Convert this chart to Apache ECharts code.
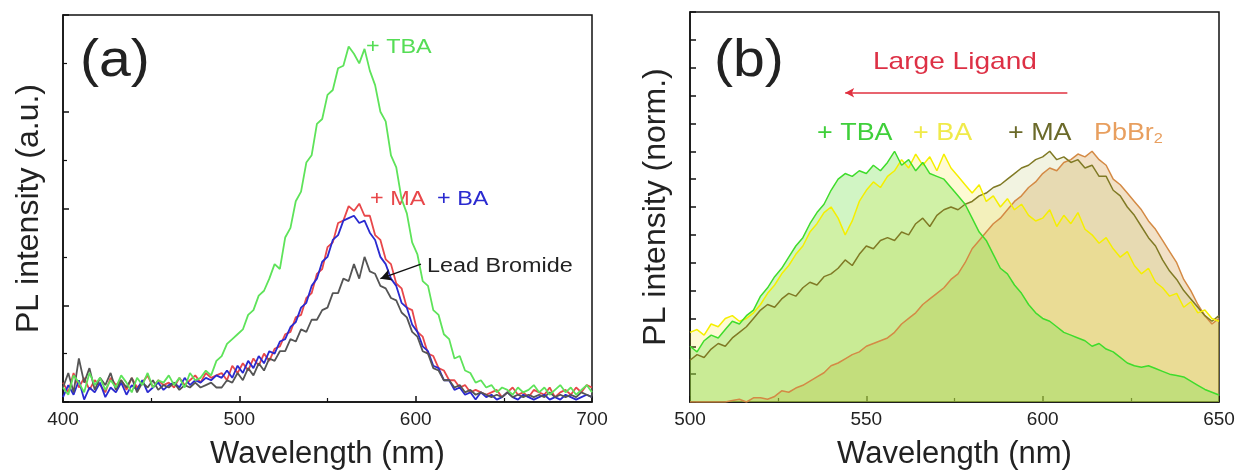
<!DOCTYPE html>
<html>
<head>
<meta charset="utf-8">
<script src="https://cdn.jsdelivr.net/npm/echarts@6/dist/echarts.min.js"></script>
<style>
  html, body { margin: 0; padding: 0; background: #fff; }
  #chart { width: 1240px; height: 475px; }
</style>
</head>
<body>
<div id="chart"></div>
<script>
// panel (a): wavelength grid, 3 nm steps
var waveA = [400,403,406,409,412,415,418,421,424,427,430,433,436,439,442,445,448,451,454,457,
  460,463,466,469,472,475,478,481,484,487,490,493,496,499,502,505,508,511,514,517,
  520,523,526,529,532,535,538,541,544,547,550,553,556,559,562,565,568,571,574,577,
  580,583,586,589,592,595,598,601,604,607,610,613,616,619,622,625,628,631,634,637,
  640,643,646,649,652,655,658,661,664,667,670,673,676,679,682,685,688,691,694,697,700];

var tbaA = [0.3,0.15,0.55,0.4,0.2,0.6,0.35,0.5,0.25,0.45,
  0.3,0.55,0.4,0.2,0.5,0.35,0.6,0.3,0.45,0.4,
  0.55,0.35,0.5,0.3,0.6,0.45,0.5,0.65,0.55,0.85,
  0.95,1.2,1.3,1.4,1.5,1.8,1.9,2.2,2.3,2.55,
  2.85,2.75,3.4,3.6,4.15,4.35,4.95,5.1,5.75,5.85,
  6.35,6.45,6.9,6.95,7.35,7.2,7.0,7.3,6.85,6.55,
  6.0,5.8,5.1,4.85,4.2,3.9,3.3,3.05,2.5,2.4,
  1.9,1.8,1.4,1.3,0.9,0.95,0.65,0.6,0.4,0.45,
  0.3,0.35,0.2,0.3,0.25,0.15,0.3,0.2,0.25,0.35,
  0.2,0.3,0.15,0.25,0.35,0.2,0.3,0.15,0.25,0.35,0.2];

var maA = [0.4,0.2,0.6,0.3,0.5,0.25,0.45,0.35,0.2,0.5,
  0.35,0.45,0.25,0.5,0.3,0.4,0.55,0.3,0.45,0.35,
  0.4,0.3,0.5,0.35,0.45,0.55,0.4,0.6,0.5,0.55,
  0.6,0.45,0.75,0.6,0.8,0.65,0.9,0.75,1.0,0.85,
  1.1,1.15,1.4,1.45,1.75,1.8,2.15,2.25,2.65,2.75,
  3.2,3.3,3.7,3.75,4.05,3.95,4.1,3.85,3.85,3.45,
  3.35,2.95,2.85,2.45,2.35,1.95,1.9,1.45,1.35,1.0,
  0.95,0.7,0.65,0.45,0.45,0.3,0.35,0.2,0.25,0.2,
  0.15,0.2,0.25,0.1,0.2,0.3,0.15,0.2,0.1,0.25,
  0.2,0.15,0.3,0.1,0.2,0.25,0.15,0.3,0.2,0.35,0.3];

var baA = [0.1,0.35,0.15,0.45,0.05,0.3,0.2,0.4,0.1,0.3,
  0.2,0.4,0.15,0.35,0.25,0.45,0.2,0.3,0.4,0.25,
  0.35,0.4,0.3,0.5,0.35,0.45,0.4,0.5,0.45,0.55,
  0.5,0.65,0.5,0.75,0.6,0.85,0.7,0.95,0.8,1.05,
  1.0,1.25,1.3,1.55,1.65,1.95,2.05,2.4,2.55,2.9,
  3.0,3.35,3.45,3.75,3.8,3.85,3.7,3.75,3.5,3.35,
  3.0,2.85,2.55,2.4,2.05,1.95,1.6,1.45,1.15,1.05,
  0.75,0.7,0.45,0.45,0.25,0.3,0.15,0.2,0.05,0.2,
  0.1,0.15,0.05,0.1,0.2,0.1,0.05,0.15,0.1,0.05,
  0.1,0.15,0.05,0.1,0.05,0.15,0.1,0.05,0.1,0.15,0.1];

var pbA = [0.3,0.6,0.2,0.9,0.4,0.7,0.25,0.5,0.35,0.6,
  0.25,0.45,0.3,0.5,0.2,0.4,0.3,0.45,0.25,0.35,
  0.3,0.4,0.25,0.35,0.3,0.4,0.3,0.35,0.4,0.3,
  0.3,0.45,0.4,0.6,0.45,0.7,0.55,0.8,0.65,0.9,
  0.85,1.05,1.05,1.3,1.25,1.5,1.45,1.7,1.7,1.9,
  1.95,2.25,2.25,2.55,2.5,2.85,2.55,3.0,2.7,2.65,
  2.4,2.35,2.15,2.1,1.85,1.75,1.45,1.35,1.05,1.0,
  0.7,0.65,0.45,0.45,0.3,0.35,0.2,0.25,0.15,0.2,
  0.15,0.1,0.15,0.1,0.2,0.1,0.15,0.1,0.15,0.1,
  0.15,0.1,0.2,0.1,0.15,0.1,0.15,0.1,0.2,0.15,0.1];

// panel (b): normalised spectra, 2 nm steps
var waveB = [500,502,504,506,508,510,512,514,516,518,520,522,524,526,528,530,532,534,536,538,
  540,542,544,546,548,550,552,554,556,558,560,562,564,566,568,570,572,574,576,578,
  580,582,584,586,588,590,592,594,596,598,600,602,604,606,608,610,612,614,616,618,
  620,622,624,626,628,630,632,634,636,638,640,642,644,646,648,650];

var tbaB = [2.0,1.8,2.2,2.4,2.3,2.6,2.9,2.8,3.1,3.3,
  3.8,4.1,4.5,4.8,5.2,5.6,5.9,6.4,6.8,7.1,
  7.6,8.0,8.2,8.1,8.3,8.2,8.5,8.3,8.6,9.0,
  8.5,8.7,8.3,8.6,8.2,8.1,8.0,7.7,7.4,7.1,
  6.6,6.1,5.8,5.3,4.8,4.6,4.2,3.9,3.5,3.2,
  3.0,2.9,2.7,2.5,2.4,2.3,2.2,2.0,2.1,1.9,
  1.8,1.6,1.4,1.3,1.25,1.3,1.2,1.1,1.0,0.95,
  0.9,0.75,0.6,0.45,0.35,0.25];

var baB = [2.5,2.6,2.4,2.8,2.7,3.0,3.1,2.9,3.0,3.2,
  3.5,3.9,4.2,4.6,4.9,5.3,5.6,6.1,6.4,6.8,
  7.0,6.6,6.0,6.5,7.2,7.6,7.9,7.7,8.1,8.3,
  8.7,8.4,8.9,8.5,8.8,8.3,8.9,8.4,8.1,7.8,
  7.5,7.8,7.2,7.4,7.0,7.3,6.9,7.1,6.7,6.5,
  6.6,6.9,6.3,6.7,6.4,6.8,6.2,6.0,5.7,5.9,
  5.5,5.2,5.4,4.9,4.6,4.8,4.3,4.1,3.8,3.9,
  3.4,3.6,3.2,3.3,3.0,2.9];

var maB = [1.5,1.7,1.6,1.9,2.1,2.0,2.3,2.5,2.7,3.0,
  3.3,3.5,3.4,3.7,3.9,3.8,4.1,4.3,4.2,4.5,
  4.6,4.8,5.1,4.9,5.3,5.6,5.5,5.8,5.9,5.8,
  6.1,6.0,6.4,6.6,6.3,6.7,6.9,7.0,6.9,7.1,
  7.2,7.4,7.5,7.7,7.8,8.0,8.2,8.4,8.5,8.7,
  8.8,9.0,8.7,8.8,8.6,8.7,8.4,8.5,8.1,8.1,
  7.6,7.4,7.0,6.7,6.3,5.9,5.6,5.1,4.7,4.4,
  4.0,3.7,3.4,3.1,2.9,3.1];

var pbB = [0,0,0,0,0,0,0.05,0.1,0,0.15,
  0.15,0.1,0.2,0.4,0.35,0.5,0.6,0.75,0.9,1.05,
  1.3,1.4,1.55,1.7,1.8,2.0,2.1,2.2,2.3,2.5,
  2.8,3.0,3.2,3.5,3.7,3.9,4.1,4.4,4.6,5.0,
  5.5,5.8,6.1,6.4,6.6,6.9,7.2,7.4,7.7,7.9,
  8.2,8.4,8.3,8.6,8.7,8.9,8.8,9.0,8.7,8.5,
  8.0,7.8,7.5,7.2,6.9,6.5,6.2,5.8,5.4,5.0,
  4.4,4.0,3.5,3.1,2.8,3.0];

var xTicksA = [400, 700, 100];
var xTicksB = [500, 650, 50];

function pairs(xs, ys) {
  var out = [];
  for (var i = 0; i < xs.length; i++) out.push([xs[i], ys[i]]);
  return out;
}

var font = 'Liberation Sans, Arial, sans-serif';
var myChart = echarts.init(document.getElementById('chart'));

function xAxisOf(idx, range) {
  return {
    gridIndex: idx, type: 'value', min: range[0], max: range[1], interval: range[2],
    axisLine: { show: true, onZero: false, lineStyle: { color: '#111', width: 1.5 } },
    axisTick: { show: true, inside: true, length: 6, lineStyle: { color: '#111', width: 1.5 } },
    minorTick: { show: true, splitNumber: 2, length: 4, lineStyle: { color: '#111', width: 1.2 } },
    axisLabel: { fontSize: 19, color: '#222', margin: 8, fontFamily: font },
    splitLine: { show: false },
    name: 'Wavelength (nm)', nameLocation: 'middle', nameGap: 37,
    nameTextStyle: { fontSize: 31, color: '#222', fontFamily: font }
  };
}

function yAxisOf(idx, max, interval, minor, title) {
  return {
    gridIndex: idx, type: 'value', min: 0, max: max, interval: interval,
    axisLine: { show: true, lineStyle: { color: '#111', width: 1.5 } },
    axisTick: { show: true, inside: true, length: 6, lineStyle: { color: '#111', width: 1.5 } },
    minorTick: { show: minor, splitNumber: 2, length: 4, lineStyle: { color: '#111', width: 1.2 } },
    axisLabel: { show: false },
    splitLine: { show: false },
    name: title, nameLocation: 'middle', nameGap: 18,
    nameTextStyle: { fontSize: 32, color: '#222', fontFamily: font }
  };
}

function line(name, xi, xs, ys, color, width, extra) {
  var s = {
    name: name, type: 'line', xAxisIndex: xi, yAxisIndex: xi,
    data: pairs(xs, ys), showSymbol: false, symbol: 'none',
    lineStyle: { color: color, width: width }, itemStyle: { color: color },
    z: 2
  };
  for (var k in extra) s[k] = extra[k];
  return s;
}

function label(text, left, top, size, color, sx) {
  return { type: 'text', left: left, top: top, scaleX: sx || 1.17,
    style: { text: text, fontSize: size, fill: color, fontFamily: font } };
}

var option = {
  animation: false,
  grid: [
    { left: 63, top: 15, width: 529, height: 391, show: true, borderColor: '#111', borderWidth: 1.5 },
    { left: 690, top: 12, width: 529, height: 392, show: true, borderColor: '#111', borderWidth: 1.5 }
  ],
  xAxis: [xAxisOf(0, xTicksA), xAxisOf(1, xTicksB)],
  yAxis: [
    yAxisOf(0, 8, 2, true, 'PL intensity (a.u.)'),
    yAxisOf(1, 14, 1, false, 'PL intensity (norm.)')
  ],
  series: [
    line('+ MA', 0, waveA, maA, '#e8474a', 1.8),
    line('+ BA', 0, waveA, baA, '#2a2ad0', 1.8),
    line('Lead Bromide', 0, waveA, pbA, '#555555', 1.8, {
      markLine: {
        silent: true, symbol: ['none', 'arrow'], symbolSize: [9, 11],
        label: { show: false },
        lineStyle: { color: '#111', width: 1.5, type: 'solid' },
        data: [[{ coord: [603, 2.85] }, { coord: [580, 2.55] }]]
      }
    }),
    line('+ TBA', 0, waveA, tbaA, '#5ee35a', 1.8),

    line('PbBr2', 1, waveB, pbB, '#d48a45', 1.5, { areaStyle: { color: 'rgba(215,160,80,0.45)' } }),
    line('+ MA', 1, waveB, maB, '#807a25', 1.5, { areaStyle: { color: 'rgba(170,175,60,0.22)' } }),
    line('+ BA', 1, waveB, baB, '#f5ef00', 1.5, { areaStyle: { color: 'rgba(250,230,30,0.28)' } }),
    line('+ TBA', 1, waveB, tbaB, '#3fdc2c', 1.5, {
      areaStyle: { color: 'rgba(110,225,70,0.45)' },
      markLine: {
        silent: true, symbol: ['none', 'arrow'], symbolSize: [7, 9],
        label: { show: false },
        lineStyle: { color: '#e0303f', width: 1.5, type: 'solid' },
        data: [[{ coord: [607, 11.1] }, { coord: [544, 11.1] }]]
      }
    })
  ],
  graphic: [
    label('(a)', 80, 36, 52, '#222', 1.1),
    label('+ TBA', 366, 37, 20, '#55dd55'),
    label('+ MA', 370, 189, 20, '#e8474a'),
    label('+ BA', 437, 189, 20, '#2a2ad0'),
    label('Lead Bromide', 427, 256, 20, '#222'),

    label('(b)', 714, 36, 52, '#222', 1.1),
    label('Large Ligand', 873, 50, 24, '#dd3045'),
    label('+ TBA', 817, 122, 23, '#3fcf3a'),
    label('+ BA', 913, 122, 23, '#f0ea4a'),
    label('+ MA', 1008, 122, 23, '#6b6a2a'),
    { type: 'text', left: 1094, top: 122, scaleX: 1.17, style: {
        text: 'PbBr{s|2}', fontSize: 23, fill: '#e89f5f', fontFamily: font,
        rich: { s: { fontSize: 14, fill: '#e89f5f', verticalAlign: 'bottom', padding: [12, 0, 0, 0], fontFamily: font } }
    } }
  ]
};

myChart.setOption(option);
</script>
</body>
</html>
